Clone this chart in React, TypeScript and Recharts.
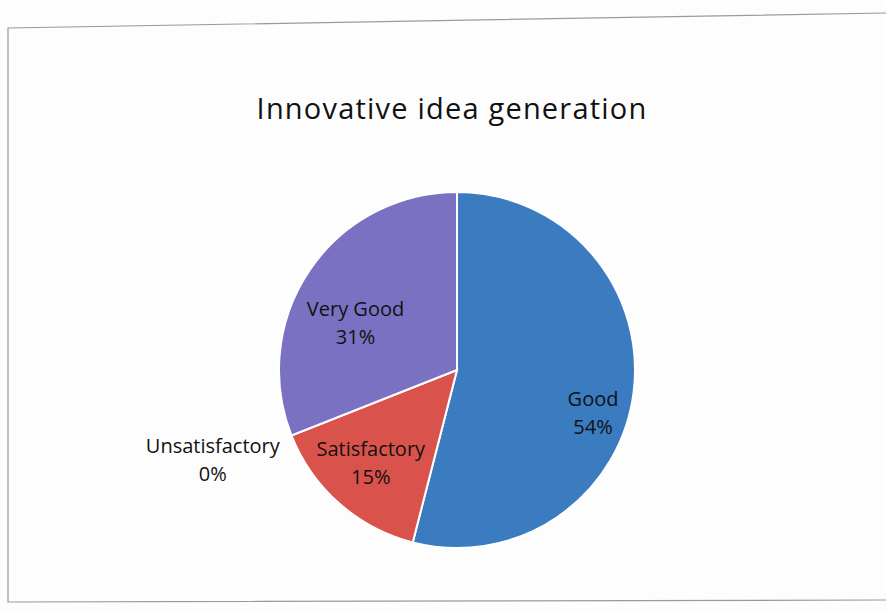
import React from 'react';
import { PieChart, Pie, Cell } from 'recharts';

const categories = ['Good', 'Satisfactory', 'Unsatisfactory', 'Very Good'];
const shares = [54, 15, 0, 31];
const colors = ['#3b7cc0', '#d9534c', '#9bbb59', '#7b71c3'];

const data = categories.map((name, i) => ({ name, value: shares[i] }));

// label placement: radius as fraction of outer radius, angle shift in degrees
const labelPlace: Record<string, { r: number; shift: number }> = {
  Good: { r: 0.8, shift: -10 },
  Satisfactory: { r: 0.71, shift: -1.6 },
  Unsatisfactory: { r: 1.46, shift: -1.6 },
  'Very Good': { r: 0.63, shift: 9 },
};

const RAD = Math.PI / 180;
const FONT = '"Open Sans", "Noto Sans", sans-serif';

const renderLabel = (props: any) => {
  const { cx, cy, midAngle, outerRadius, name, value } = props;
  const p = labelPlace[name] || { r: 0.7, shift: 0 };
  const a = (midAngle + p.shift) * RAD;
  const r = outerRadius * p.r;
  const x = cx + r * Math.cos(a);
  const y = cy - r * Math.sin(a);
  return (
    <text
      x={x}
      y={y - 6}
      textAnchor="middle"
      fill="#111"
      fontFamily={FONT}
      fontSize={20}
    >
      <tspan x={x} dy={0}>{name}</tspan>
      <tspan x={x} dy={28}>{`${value}%`}</tspan>
    </text>
  );
};

export default function App() {
  return (
    <div style={{ position: 'absolute', left: 0, top: 0, width: 886, height: 612, background: '#fdfdfe' }}>
      <svg width={886} height={612} style={{ position: 'absolute', left: 0, top: 0 }}>
        <polyline
          points="886,13 8,28 8,602 886,600"
          fill="none"
          stroke="#9a9a9a"
          strokeWidth={1.2}
        />
        <text
          x={452}
          y={119}
          textAnchor="middle"
          fontFamily={FONT}
          fontSize={29}
          letterSpacing={1.2}
          fill="#111"
        >
          Innovative idea generation
        </text>
      </svg>
      <div style={{ position: 'absolute', left: 0, top: 0 }}>
        <PieChart width={886} height={612}>
          <Pie
            data={data}
            dataKey="value"
            nameKey="name"
            cx={452}
            cy={365}
            outerRadius={178}
            startAngle={90}
            endAngle={-270}
            stroke="#ffffff"
            strokeWidth={2}
            label={renderLabel}
            labelLine={false}
            isAnimationActive={false}
          >
            {data.map((d, i) => (
              <Cell key={d.name} fill={colors[i]} />
            ))}
          </Pie>
        </PieChart>
      </div>
    </div>
  );
}
